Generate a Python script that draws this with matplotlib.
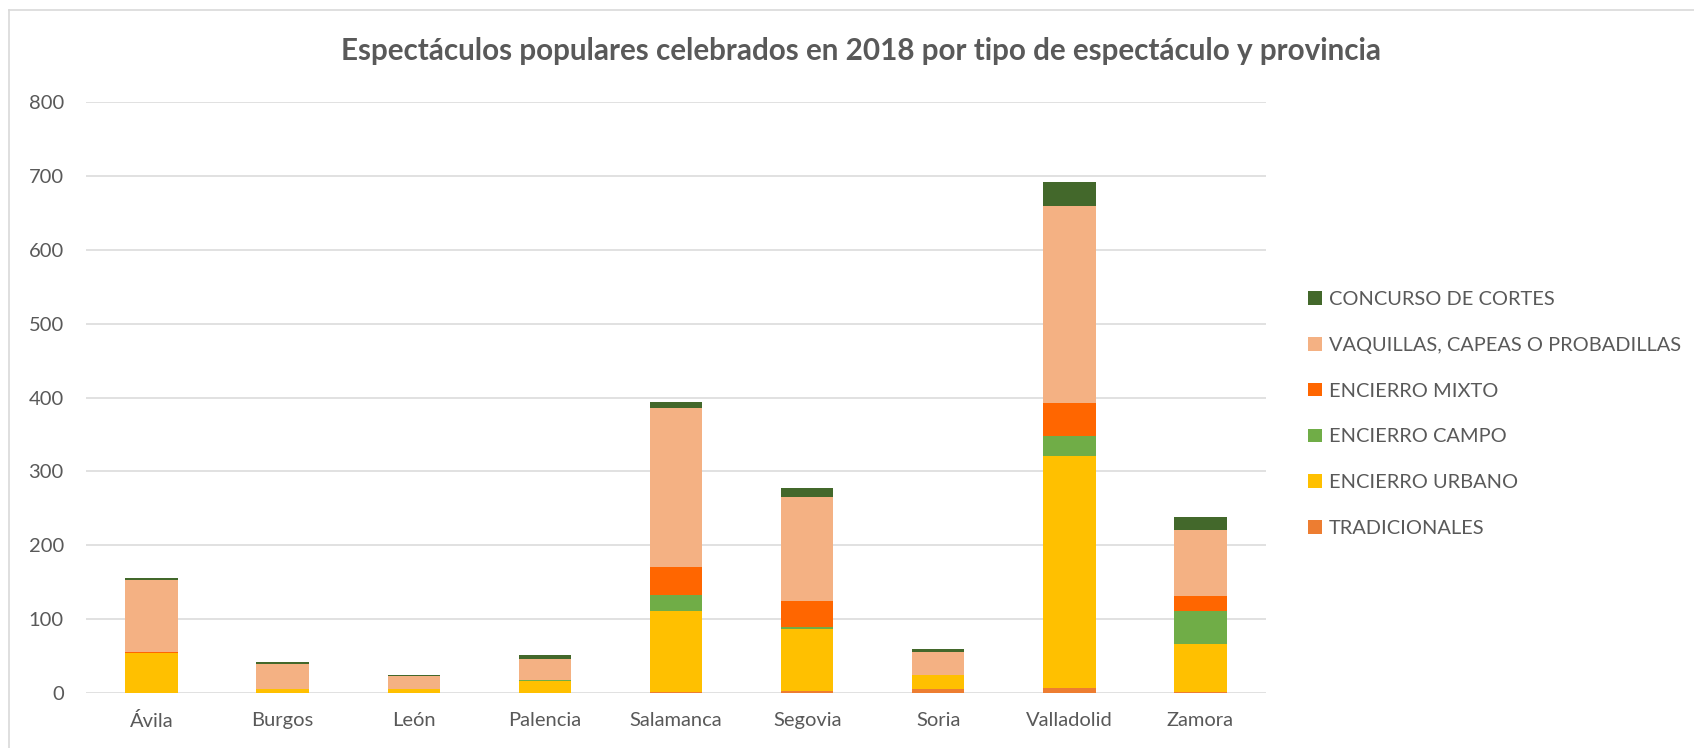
import numpy as np
import matplotlib.pyplot as plt
from matplotlib.lines import Line2D

# provincias
provincias = ['Ávila', 'Burgos', 'León', 'Palencia', 'Salamanca', 'Segovia', 'Soria', 'Valladolid', 'Zamora']

# valores por tipo de espectaculo
tradicionales = [0, 0, 0, 0, 2, 3, 5, 7, 2]
encierro_urbano = [54, 5, 5, 16, 109, 83, 19, 314, 65]
encierro_campo = [0, 0, 1, 1, 22, 3, 1, 27, 44]
encierro_mixto = [2, 0, 0, 0, 37, 35, 0, 45, 20]
vaquillas = [97, 34, 17, 29, 216, 142, 31, 266, 90]
concurso_cortes = [3, 3, 1, 5, 8, 11, 3, 33, 18]

series = [
    ('TRADICIONALES', tradicionales, '#ED7D31'),
    ('ENCIERRO URBANO', encierro_urbano, '#FFC000'),
    ('ENCIERRO CAMPO', encierro_campo, '#70AD47'),
    ('ENCIERRO MIXTO', encierro_mixto, '#FF6600'),
    ('VAQUILLAS, CAPEAS O PROBADILLAS', vaquillas, '#F4B183'),
    ('CONCURSO DE CORTES', concurso_cortes, '#43682B'),
]

plt.rcParams['font.family'] = ['Lato', 'DejaVu Sans']
gris = '#595959'

fig = plt.figure(figsize=(16.94, 7.48), dpi=100)
ax = fig.add_axes([86 / 1694, 1 - 693 / 748, 1180 / 1694, 590.7 / 748])

x = np.arange(len(provincias))
bottom = np.zeros(len(provincias))
for nombre, vals, color in series:
    vals = np.array(vals, dtype=float)
    ax.bar(x, vals, 0.4, bottom=bottom, color=color, label=nombre, zorder=3)
    bottom += vals

ax.set_xlim(-0.5, len(provincias) - 0.5)
ax.set_ylim(0, 800)
ax.set_yticks(range(0, 801, 100))
ax.set_xticks(x)
ax.set_xticklabels(provincias)
ax.tick_params(axis='both', length=0, labelsize=14.5, labelcolor=gris)
ax.tick_params(axis='y', pad=16)
ax.tick_params(axis='x', pad=14)
ax.grid(axis='y', color='#d9d9d9', lw=1.1, zorder=0)
for s in ax.spines.values():
    s.set_visible(False)

fig.text(0.508, 1 - 51 / 748, 'Espectáculos populares celebrados en 2018 por tipo de espectáculo y provincia',
         ha='center', va='center', fontsize=21.3, fontweight='bold', color=gris)

# leyenda en orden inverso
h, l = ax.get_legend_handles_labels()
fig.legend(h[::-1], l[::-1], loc='center left', bbox_to_anchor=(1308 / 1694, 1 - 414 / 748),
           frameon=False, fontsize=14.4, labelcolor=gris, borderpad=0, borderaxespad=0,
           handlelength=0.68, handleheight=0.68, handletextpad=0.35, labelspacing=1.44)

# borde del area del grafico
fig.add_artist(Line2D([9 / 1694, 9 / 1694], [0, 1 - 10 / 748], transform=fig.transFigure, color='#d9d9d9', lw=1.2))
fig.add_artist(Line2D([9 / 1694, 1], [1 - 10 / 748, 1 - 10 / 748], transform=fig.transFigure, color='#d9d9d9', lw=1.2))

fig.savefig('out.png', dpi=100)
